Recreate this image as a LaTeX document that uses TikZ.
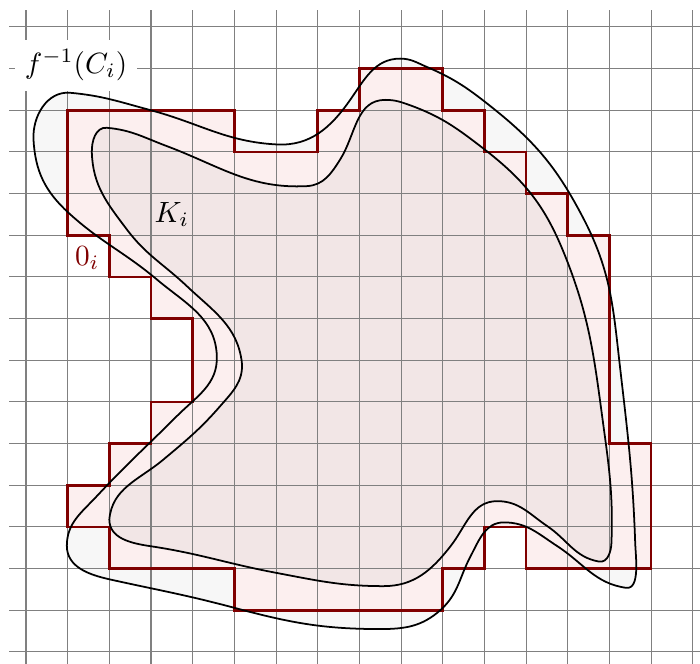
\documentclass[tikz,border=0pt]{standalone}
\begin{document}
\begin{tikzpicture}[x=0.5cm,y=0.5cm,
  gridline/.style={gray,line width=0.35pt},
  curveline/.style={black,line width=0.6pt},
  stairline/.style={draw=red!50!black,line width=0.9pt,line join=miter}]
\definecolor{outerfill}{HTML}{F7F7F7}
\definecolor{stairfill}{HTML}{FCEFEF}
\definecolor{innerfill}{HTML}{F2E6E6}
\useasboundingbox (-0.624,-0.288) rectangle (16.175,15.647);
\clip (-0.624,-0.288) rectangle (16.175,15.647);
% outer curve f^{-1}(C_i)
\path[fill=outerfill,save path=\outerp] (1.06,13.42)
 to[out=-5,in=165] (3.0,13.0)
 to[out=-15,in=177] (6.02,12.18)
 to[out=-3,in=-125] (7.78,13.25)
 to[out=55,in=180] (8.98,14.24)
 to[out=0,in=157] (9.62,14.04)
 to[out=-23,in=141.3] (11.22,13.04)
 to[out=-38.7,in=117.5] (13.38,10.40)
 to[out=-62.5,in=96.6] (14.26,6.80)
 to[out=-83.4,in=92] (14.62,2.62)
 to[out=-88,in=-8,looseness=0.8] (14.4,1.54)
 to[out=172,in=-33] (12.75,2.54)
 to[out=147,in=0] (11.47,3.11)
 to[out=180,in=62.1] (10.67,2.30)
 to[out=-117.9,in=42] (9.95,1.01)
 to[out=-138,in=0] (8.50,0.55)
 to[out=180,in=-15] (5.0,1.06)
 to[out=165,in=-12.5] (2.02,1.74)
 to[out=167.5,in=-90] (0.98,2.55)
 to[out=90,in=-133] (1.70,3.74)
 to[out=47,in=-135] (3.62,5.66)
 to[out=45,in=-88] (4.58,7.1)
 to[out=92,in=-40] (3.14,8.94)
 to[out=140,in=-42.5] (1.02,10.54)
 to[out=137.5,in=-87] (0.18,12.30)
 to[out=93,in=175] cycle;
% staircase 0_i
\path[fill=stairfill,save path=\stairp] (1,13) -- (5,13) -- (5,12) -- (7,12) -- (7,13) -- (8,13) -- (8,14)
 -- (10,14) -- (10,13) -- (11,13) -- (11,12) -- (12,12) -- (12,11) -- (13,11) -- (13,10)
 -- (14,10) -- (14,5) -- (15,5) -- (15,2) -- (12,2) -- (12,3) -- (11,3) -- (11,2) -- (10,2)
 -- (10,1) -- (5,1) -- (5,2) -- (2,2) -- (2,3) -- (1,3) -- (1,4) -- (2,4) -- (2,5) -- (3,5)
 -- (3,6) -- (4,6) -- (4,8) -- (3,8) -- (3,9) -- (2,9) -- (2,10) -- (1,10) -- cycle;
% inner curve K_i
\path[fill=innerfill,save path=\innerp] (1.94,12.58)
 to[out=-5,in=159.4] (3.38,12.14)
 to[out=-20.6,in=-177] (6.74,11.18)
 to[out=3,in=-122.2] (7.54,11.82)
 to[out=57.8,in=180] (8.62,13.25)
 to[out=0,in=160] (9.22,13.12)
 to[out=-20,in=142.3] (10.98,12.08)
 to[out=-37.7,in=112.2] (12.90,9.60)
 to[out=-67.8,in=97.8] (13.87,5.34)
 to[out=-82.2,in=88] (14.05,2.62)
 to[out=-92,in=-10] (13.75,2.17)
 to[out=170,in=-34] (12.51,3.02)
 to[out=146,in=0] (11.31,3.62)
 to[out=180,in=52] (10.19,2.54)
 to[out=-128,in=0] (8.58,1.58)
 to[out=180,in=-10.7] (6.0,1.90)
 to[out=169.3,in=-8.5] (2.98,2.54)
 to[out=171.5,in=-90] (2.0,3.18)
 to[out=85,in=-140] (3.30,4.62)
 to[out=40,in=-131] (4.66,5.90)
 to[out=49,in=-85] (5.18,6.95)
 to[out=97,in=-43.4] (3.86,8.78)
 to[out=136.6,in=-53] (2.42,10.14)
 to[out=127,in=-88] (1.58,11.98)
 to[out=92,in=175] cycle;
% grid
\draw[gridline] (-0.4,-0.4) grid[step=1] (16.4,15.4);
% outlines
\draw[stairline,use path=\stairp];
\draw[curveline,use path=\outerp];
\draw[curveline,use path=\innerp];
% labels
\node[fill=white] (fC) at (1.2,14.08) {$f^{-1}(C_i)$};
\node (K) at (3.5,10.5) {$K_i$};
\node[text=red!50!black] (O) at (1.47,9.45) {$0_i$};
\end{tikzpicture}
\end{document}
